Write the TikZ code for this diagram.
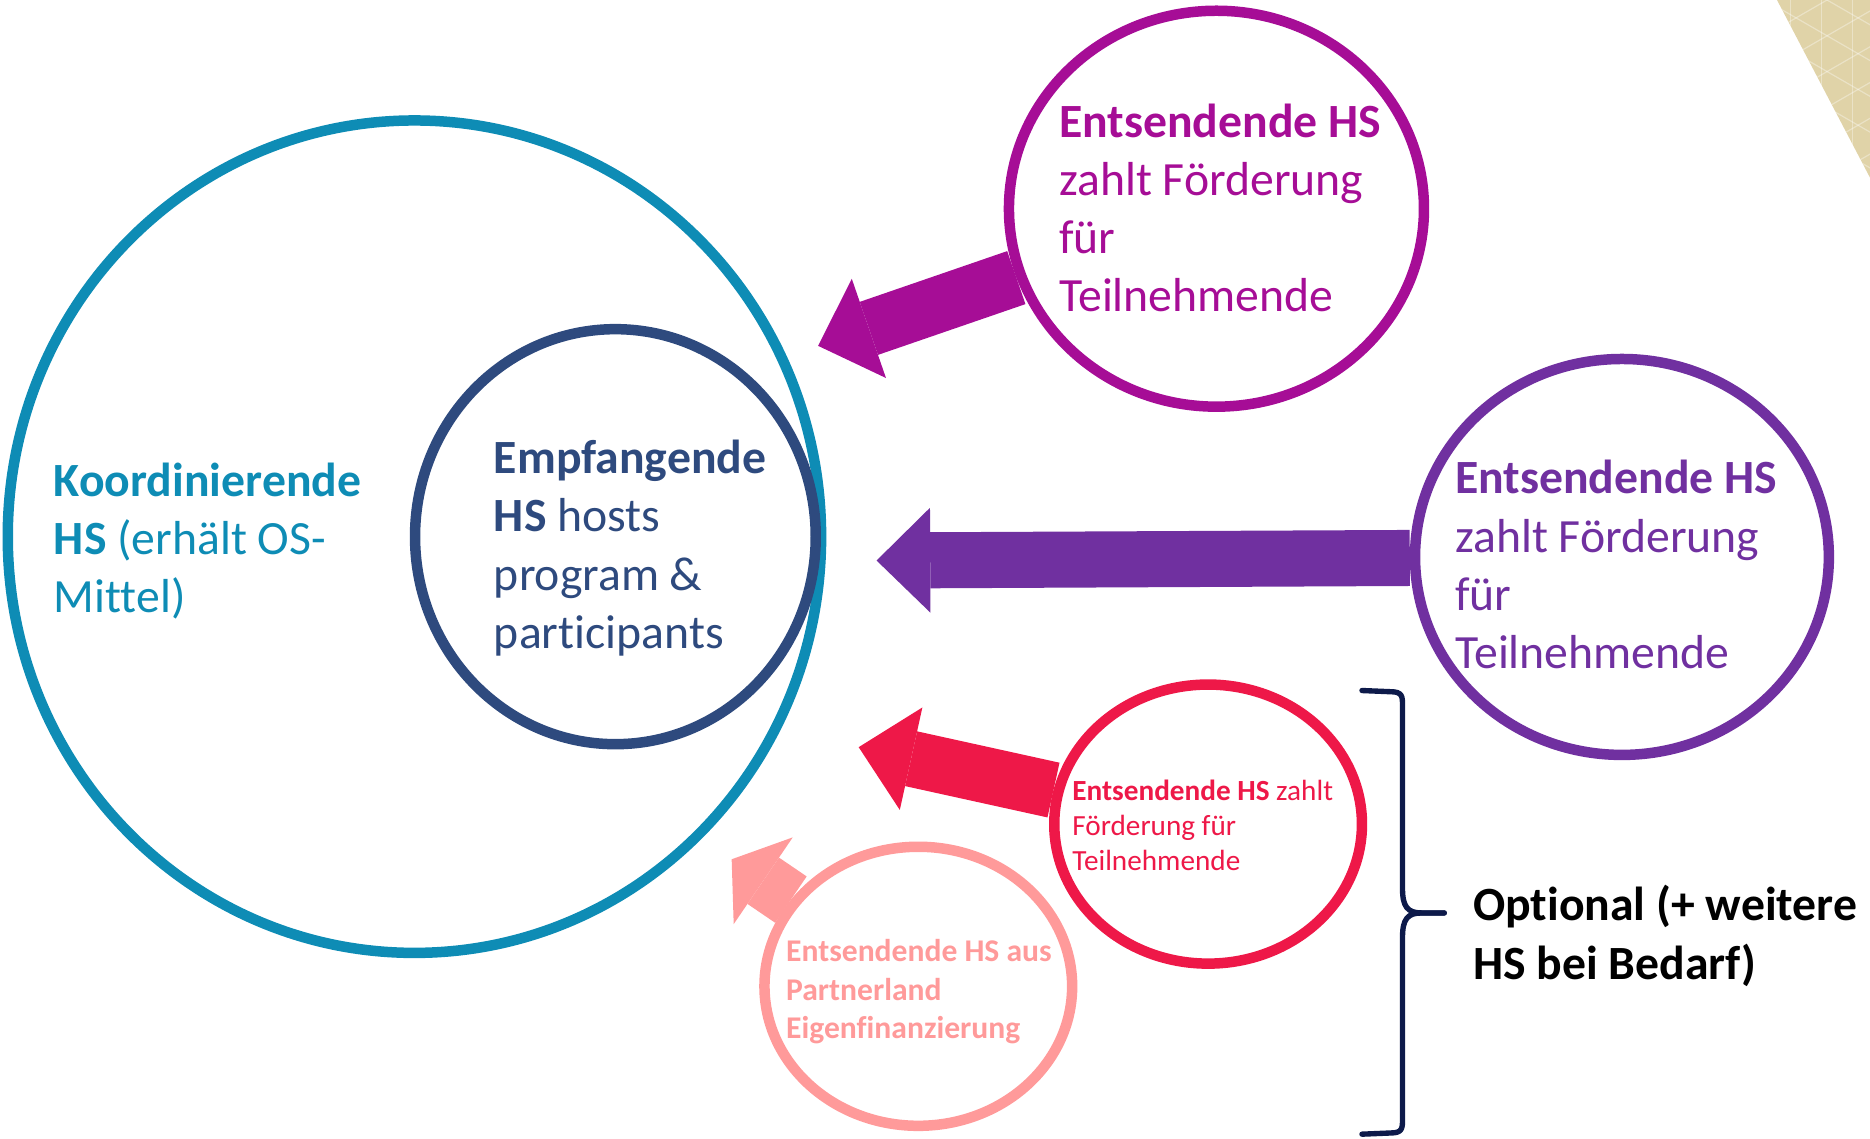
\documentclass[tikz,border=0pt]{standalone}
\usepackage{fontspec}
\setmainfont{Carlito}[Ligatures=NoCommon]
\usetikzlibrary{shapes.geometric, arrows.meta}
\definecolor{tealc}{HTML}{0E8CB5}
\definecolor{navyc}{HTML}{2E4A7E}
\definecolor{magc}{HTML}{A60D96}
\definecolor{purc}{HTML}{7030A0}
\definecolor{redc}{HTML}{EE1848}
\definecolor{pinkc}{HTML}{FF9A9A}
\definecolor{bracec}{HTML}{0D1A4A}
\definecolor{beigec}{HTML}{E0D3A8}
\begin{document}
\begin{tikzpicture}[x=1pt, y=-1pt,
	main/.style = {draw, ellipse, line width=8.8pt, inner sep=0pt, fill=white},
	bigtext/.style = {anchor=north west, inner sep=0pt, align=left, yshift=34.16pt, font=\fontsize{40}{48.8}\selectfont},
	smalltext/.style = {anchor=north west, inner sep=0pt, align=left, yshift=20.51pt, font=\fontsize{24.5}{29.3}\selectfont},
	pinktext/.style = {anchor=north west, inner sep=0pt, align=left, yshift=22.61pt, font=\fontsize{26.5}{32.3}\selectfont\bfseries},
	flow/.style = {line width=47pt, -{Triangle[length=45pt, width=88pt, line width=0pt]}},
	bracket/.style = {draw=bracec, line width=4.5pt, line cap=round, line join=round},
	hexline/.style = {draw=white, opacity=0.35, line width=1pt}]
	\useasboundingbox (0,0) rectangle (1568,955);
	\begin{scope}
		\clip (1490,0) -- (1568,0) -- (1568,149) -- cycle;
		\fill[beigec] (1490,0) rectangle (1568,149);
		\foreach \k in {0,...,7} {
			\draw[hexline] (1480,{\k*30-60}) -- ++(100,57.7);
			\draw[hexline] (1480,{\k*30}) -- ++(100,-57.7);
		}
		\foreach \k in {1501,1527,1553} \draw[hexline] (\k,0) -- (\k,149);
	\end{scope}
	\node[main, draw=tealc, fill=none, minimum width=682pt, minimum height=698pt] (1) at (347.5,450) {};
	\node[main, draw=navyc, fill=none, minimum width=336pt, minimum height=348pt] (2) at (516,450) {};
	\node[main, draw=magc, minimum width=348pt, minimum height=332pt] (3) at (1020,175) {};
	\node[main, draw=purc, minimum width=347pt, minimum height=332pt] (4) at (1360,467) {};
	\node[main, draw=redc, minimum width=258pt, minimum height=234pt] (5) at (1013,691) {};
	\node[main, draw=pinkc, minimum width=258pt, minimum height=234pt] (6) at (770,827) {};
	\coordinate (a3) at (686,290);
	\coordinate (a4) at (735,470);
	\coordinate (a5) at (720,626.5);
	\coordinate (a6) at (613.5,720.5);
	\draw[flow, magc] (3) -- (a3);
	\draw[flow, purc] (4) -- (a4);
	\draw[flow, redc] (5) -- (a5);
	\draw[flow, pinkc, -{Triangle[length=32pt, width=88pt, line width=0pt]}] (6) -- (a6);
	\node[bigtext, text=tealc] (t1) at (45,416) {\strut\textbf{Koordinierende}\\\textbf{HS} (erhält OS-\\Mittel)};
	\node[bigtext, text=navyc] (t2) at (414,397) {\strut\textbf{Empfangende}\\\textbf{HS} hosts\\program \&\\participants};
	\node[bigtext, text=magc] (t3) at (888,115) {\strut\textbf{Entsendende HS}\\zahlt Förderung\\für\\Teilnehmende};
	\node[bigtext, text=purc] (t4) at (1220,414) {\strut\textbf{Entsendende HS}\\zahlt Förderung\\für\\Teilnehmende};
	\node[smalltext, text=redc] (t5) at (899,671) {\strut\textbf{Entsendende HS} zahlt\\Förderung für\\Teilnehmende};
	\node[pinktext, text=pinkc] (t6) at (659,806) {\strut Entsendende HS aus\\Partnerland\\Eigenfinanzierung};
	\node[bigtext, font=\fontsize{40}{48.8}\selectfont\bfseries] (t7) at (1235,772) {\strut Optional (+ weitere\\HS bei Bedarf)};
	\coordinate (b1) at (1142,579);
	\coordinate (b2) at (1142,951);
	\coordinate (b3) at (1211,765.5);
	\draw[bracket] (b1) -- (1166,580) .. controls (1176,580) and (1176,584) .. (1176,592) -- (1176,745) .. controls (1176,760) and (1180,765.5) .. (1192,765.5) -- (b3);
	\draw[bracket] (b2) -- (1166,950) .. controls (1176,950) and (1176,946) .. (1176,938) -- (1176,786) .. controls (1176,771) and (1180,765.5) .. (1192,765.5) -- (b3);
\end{tikzpicture}
\end{document}
